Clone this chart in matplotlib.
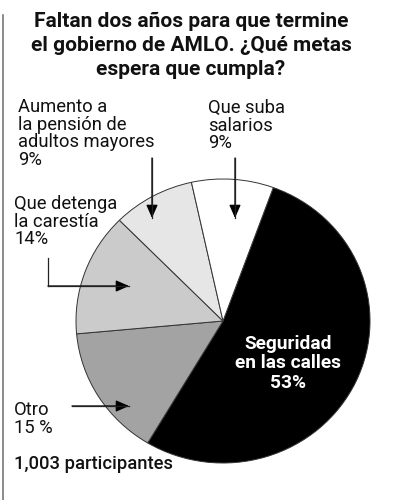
import matplotlib
matplotlib.use("Agg")
import matplotlib.pyplot as plt
from matplotlib.lines import Line2D

plt.rcParams['font.family'] = ['Roboto', 'DejaVu Sans']

# data
categorias = ['Seguridad en las calles', 'Otro', 'Que detenga la carestía',
              'Aumento a la pensión de adultos mayores', 'Que suba salarios']
porcentajes = [53, 15, 14, 9, 9]
colores = ['#000000', '#a3a3a3', '#cbcbcb', '#e6e6e6', '#ffffff']

titulo = ['Faltan dos años para que termine',
          'el gobierno de AMLO. ¿Qué metas',
          'espera que cumpla?']
nota = '1,003 participantes'

W, H = 396, 500
fig = plt.figure(figsize=(W / 100, H / 100), dpi=100)


def fx(x):
    return x / W


def fy(y):
    return 1 - y / H


# pie: center and half sizes in pixels
cx, cy, rx, ry = 223, 321, 147, 142
ax = fig.add_axes([fx(cx - rx), fy(cy + ry), 2 * rx / W, 2 * ry / H])
ax.pie(porcentajes, colors=colores, startangle=70, counterclock=False,
       wedgeprops=dict(edgecolor='#333333', linewidth=0.7))
ax.set_aspect('auto')
ax.set_xlim(-1.0, 1.0)
ax.set_ylim(-1.0, 1.0)
ax.axis('off')

# left rule
fig.add_artist(Line2D([fx(3), fx(3)], [fy(15), fy(500)], color='#777777', lw=1.2))

# title
for i, line in enumerate(titulo):
    fig.text(fx(191), fy(27 + 24 * i), line, ha='center', va='baseline',
             fontsize=15, fontweight='bold', color='#111111')


def label(x, y0, lines, step=17.6, **kw):
    for i, t in enumerate(lines):
        fig.text(fx(x), fy(y0 + step * i), t, ha='left', va='baseline',
                 fontsize=13.2, color='#111111', **kw)


label(18, 112, ['Aumento a', 'la pensión de', 'adultos mayores', f'{porcentajes[3]}%'])
label(208, 113, ['Que suba', 'salarios', f'{porcentajes[4]}%'])
label(14, 209, ['Que detenga', 'la carestía', f'{porcentajes[2]}%'])
label(14, 415, ['Otro', f'{porcentajes[1]} %'])

for i, t in enumerate(['Seguridad', 'en las calles', f'{porcentajes[0]}%']):
    fig.text(fx(288), fy(349 + 19.5 * i), t, ha='center', va='baseline',
             fontsize=13.8, fontweight='bold', color='white')

fig.text(fx(14), fy(469), nota, ha='left', va='baseline', fontsize=13.2,
         fontweight='medium', color='#111111')


def arrow(x0, y0, x1, y1):
    fig.add_artist(Line2D([fx(x0), fx(x1)], [fy(y0), fy(y1)], color='#222222', lw=0.9))
    ax.annotate('', xy=(fx(x1), fy(y1)), xytext=(fx(x0), fy(y0)),
                xycoords='figure fraction', textcoords='figure fraction',
                arrowprops=dict(arrowstyle='-|>,head_length=0.8,head_width=0.35',
                                color='#000000', lw=0.9, shrinkA=0, shrinkB=0))


arrow(152, 158, 152, 218)
arrow(235, 158, 235, 218)
fig.add_artist(Line2D([fx(48), fx(48)], [fy(258), fy(286)], color='#222222', lw=0.9))
arrow(48, 286, 129, 286)
arrow(72, 406, 129, 406)

fig.savefig('out.png', dpi=100, facecolor='white')
